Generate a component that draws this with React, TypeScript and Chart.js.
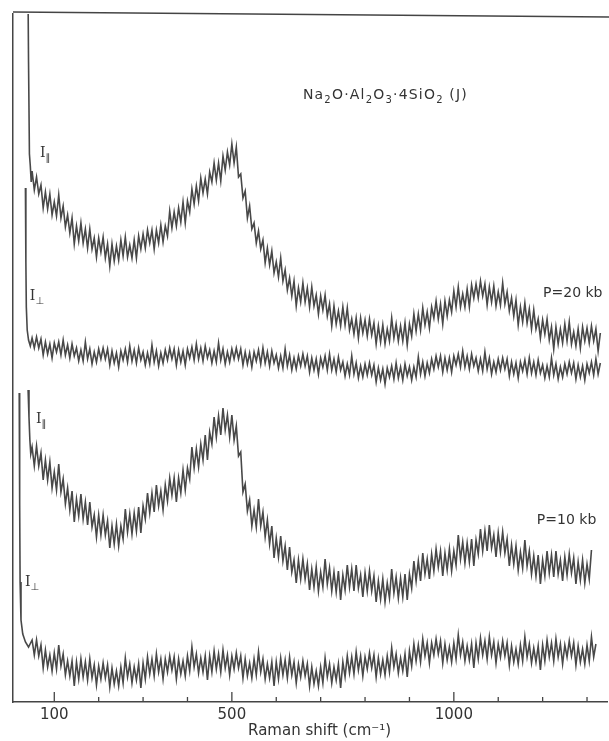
import React, { useEffect, useRef } from "react";
import { Chart, registerables } from "chart.js";

Chart.register(...registerables);

// ---- data (Raman shift in cm^-1, intensity in arbitrary units) ----
const SHIFT_START = 50;
const SHIFT_STEP = 5;

const xTickValues = [100, 200, 300, 400, 500, 600, 700, 800, 900, 1000, 1100, 1200, 1300];
const xLabelValues = [100, 500, 1000];

// I-parallel, P = 20 kb (from 50 cm^-1, every 5 cm^-1)
const parallel20 = [
  531, 512, 525, 508, 517, 494, 510, 493, 508, 487,
  500, 486, 507, 484, 496, 475, 487, 469, 484, 458,
  476, 461, 479, 459, 473, 454, 473, 453, 464, 445,
  464, 450, 465, 444, 458, 436, 458, 441, 456, 442,
  462, 446, 465, 445, 457, 444, 462, 444, 466, 453,
  468, 454, 472, 459, 472, 453, 472, 459, 477, 460,
  476, 466, 491, 474, 490, 476, 494, 480, 500, 479,
  501, 490, 513, 498, 516, 501, 524, 509, 523, 508,
  530, 520, 539, 522, 539, 521, 546, 532, 550, 537,
  558, 539, 555, 525, 528, 504, 511, 484, 496, 473,
  479, 459, 471, 453, 462, 439, 454, 437, 451, 429,
  440, 425, 444, 421, 432, 412, 424, 406, 421, 396,
  414, 400, 419, 400, 414, 395, 415, 396, 407, 388,
  406, 392, 407, 386, 398, 376, 396, 378, 391, 376,
  395, 377, 394, 372, 383, 368, 384, 364, 384, 369,
  382, 366, 383, 367, 379, 358, 376, 360, 377, 358,
  373, 361, 384, 364, 378, 361, 376, 361, 379, 357,
  378, 366, 388, 371, 388, 372, 394, 377, 390, 374,
  395, 384, 401, 383, 398, 378, 401, 386, 402, 390,
  411, 395, 415, 395, 408, 395, 413, 395, 417, 404,
  418, 404, 421, 406, 418, 397, 415, 400, 416, 396,
  410, 397, 419, 398, 410, 391, 404, 386, 402, 377,
  395, 380, 399, 379, 393, 373, 392, 373, 383, 364,
  382, 368, 383, 362, 375, 353, 375, 358, 373, 359,
  378, 361, 380, 358, 370, 356, 373, 354, 375, 361,
  374, 359, 376, 361, 373, 351, 369,
];

// I-perpendicular, P = 20 kb
const perpendicular20 = [
  364, 354, 365, 354, 363, 347, 360, 348, 358, 344,
  359, 350, 360, 347, 362, 347, 357, 344, 358, 346,
  354, 341, 352, 341, 360, 343, 353, 338, 350, 340,
  353, 343, 354, 343, 353, 337, 351, 339, 349, 335,
  351, 342, 353, 340, 356, 341, 352, 339, 354, 342,
  350, 337, 349, 338, 357, 340, 351, 336, 349, 339,
  352, 342, 354, 343, 353, 337, 352, 340, 351, 337,
  353, 344, 355, 342, 358, 343, 354, 341, 356, 344,
  352, 339, 351, 340, 359, 342, 353, 338, 350, 340,
  353, 343, 354, 343, 353, 337, 350, 338, 349, 335,
  350, 341, 352, 338, 354, 339, 350, 336, 351, 339,
  347, 334, 346, 334, 353, 336, 347, 332, 344, 333,
  346, 336, 348, 336, 346, 330, 344, 332, 343, 328,
  344, 335, 346, 332, 348, 332, 343, 330, 345, 332,
  340, 326, 338, 327, 346, 328, 339, 324, 336, 325,
  338, 327, 339, 327, 337, 320, 334, 322, 333, 318,
  334, 325, 336, 323, 339, 324, 335, 322, 338, 326,
  335, 322, 335, 325, 345, 328, 340, 326, 339, 329,
  343, 333, 346, 335, 346, 330, 344, 332, 344, 330,
  346, 337, 348, 335, 351, 335, 346, 333, 348, 336,
  344, 331, 343, 331, 350, 333, 344, 328, 340, 330,
  343, 332, 344, 333, 343, 326, 340, 328, 339, 324,
  340, 331, 342, 328, 344, 329, 340, 327, 342, 329,
  337, 324, 336, 325, 344, 327, 338, 323, 335, 325,
  338, 328, 340, 329, 339, 323, 337, 325, 336, 322,
  338, 329, 340, 327, 343, 328, 339,
];

// I-parallel, P = 10 kb
const parallel10 = [
  255, 236, 256, 236, 249, 222, 242, 222, 240, 214,
  230, 212, 238, 210, 223, 198, 214, 192, 211, 180,
  203, 186, 208, 183, 200, 177, 200, 175, 187, 165,
  187, 167, 187, 167, 181, 154, 176, 158, 178, 156,
  176, 163, 193, 170, 188, 168, 189, 171, 195, 169,
  196, 183, 209, 189, 209, 190, 217, 196, 211, 192,
  217, 201, 224, 207, 224, 200, 224, 209, 232, 212,
  234, 223, 255, 234, 253, 235, 258, 242, 267, 242,
  270, 258, 285, 265, 286, 267, 294, 272, 287, 265,
  287, 262, 276, 246, 250, 210, 218, 191, 202, 176,
  192, 175, 203, 176, 190, 165, 182, 158, 176, 144,
  164, 145, 166, 141, 156, 132, 155, 130, 142, 119,
  142, 123, 143, 123, 138, 112, 133, 115, 135, 111,
  130, 115, 143, 118, 134, 111, 130, 110, 131, 102,
  127, 112, 137, 115, 133, 111, 137, 114, 127, 105,
  129, 111, 131, 111, 126, 100, 121, 103, 123, 100,
  119, 104, 133, 109, 125, 104, 124, 105, 128, 102,
  128, 114, 141, 121, 141, 121, 149, 128, 143, 123,
  148, 131, 153, 135, 151, 126, 149, 132, 153, 131,
  151, 137, 167, 143, 160, 139, 159, 140, 163, 136,
  162, 148, 173, 151, 171, 151, 177, 154, 167, 145,
  169, 150, 170, 149, 163, 136, 157, 138, 156, 132,
  150, 134, 162, 136, 151, 128, 146, 126, 147, 118,
  142, 126, 151, 129, 147, 125, 151, 128, 142, 121,
  145, 127, 148, 129, 144, 118, 140, 122, 142, 119,
  138, 123, 152,
];

// I-perpendicular, P = 10 kb
const perpendicular10 = [
  62, 47, 62, 46, 57, 34, 52, 35, 47, 31,
  49, 33, 57, 36, 48, 27, 41, 26, 41, 16,
  40, 23, 43, 25, 40, 22, 43, 24, 37, 17,
  36, 23, 39, 24, 37, 15, 34, 18, 31, 16,
  35, 19, 44, 25, 38, 19, 35, 22, 38, 14,
  39, 23, 45, 28, 43, 26, 48, 30, 43, 23,
  43, 30, 46, 32, 45, 23, 43, 28, 41, 26,
  46, 31, 55, 35, 48, 29, 44, 30, 46, 22,
  46, 30, 51, 33, 48, 30, 52, 34, 47, 27,
  46, 33, 49, 34, 46, 24, 43, 26, 39, 24,
  43, 27, 50, 30, 43, 23, 38, 24, 40, 16,
  40, 23, 44, 27, 42, 24, 45, 27, 40, 19,
  38, 25, 41, 26, 38, 16, 35, 18, 31, 16,
  35, 19, 44, 25, 38, 19, 35, 22, 38, 14,
  40, 25, 46, 29, 45, 28, 50, 32, 46, 26,
  45, 33, 49, 34, 47, 25, 44, 28, 42, 27,
  46, 30, 54, 35, 48, 29, 44, 31, 48, 25,
  51, 36, 58, 41, 57, 40, 63, 46, 59, 39,
  59, 47, 63, 48, 61, 39, 58, 42, 55, 40,
  59, 43, 67, 47, 60, 41, 56, 42, 58, 34,
  59, 43, 64, 47, 61, 43, 65, 47, 60, 39,
  58, 45, 61, 46, 59, 37, 56, 40, 53, 38,
  57, 41, 65, 45, 58, 39, 54, 40, 56, 32,
  57, 41, 62, 45, 59, 41, 63, 45, 58, 38,
  57, 45, 61, 46, 59, 37, 56, 40, 53, 38,
  57, 41, 65, 45, 58,
];

// Rayleigh wings at the start of each scan: [shift, intensity]
const wingParallel20 = [[40, 760], [42, 640], [44, 548], [46, 536], [48, 520]];
const wingPerpendicular20 = [[35, 514], [36, 440], [37, 395], [39, 372], [42, 362], [46, 356]];
const wingParallel10 = [[41, 312], [43, 285], [45, 262], [47, 248]];
const wingPerpendicular10 = [[21, 309], [22, 200], [23, 120], [25, 82], [29, 68], [35, 60], [42, 55]];

// ---- presentation ----
const INK = "#333333";
const TRACE = "rgba(40,40,40,0.85)";

function toPoints(wing: number[][], values: number[]) {
  return [
    ...wing.map(([x, y]) => ({ x, y })),
    ...values.map((y, i) => ({ x: SHIFT_START + i * SHIFT_STEP, y })),
  ];
}

type Part = [string, number, string?];

function drawParts(ctx: CanvasRenderingContext2D, parts: Part[], x: number, y: number, size: number, spacing: number) {
  let cx = x;
  for (const [t, kind, fam] of parts) {
    const fs = kind === 0 ? size : Math.round(size * 0.72);
    const family = fam || '"DejaVu Sans", sans-serif';
    ctx.font = `${fs}px ${family}`;
    (ctx as any).letterSpacing = `${spacing}px`;
    const dy = kind === 1 ? size * 0.3 : 0;
    ctx.fillText(t, cx, y + dy);
    cx += ctx.measureText(t).width;
  }
  (ctx as any).letterSpacing = "0px";
}

const annotations: { parts: Part[]; at: [number, number]; size: number; spacing: number }[] = [
  {
    parts: [["Na", 0], ["2", 1], ["O·Al", 0], ["2", 1], ["O", 0], ["3", 1], ["·4SiO", 0], ["2", 1], [" (J)", 0]],
    at: [660, 603], size: 14, spacing: 1.2,
  },
  { parts: [["P=20 kb", 0]], at: [1201, 405], size: 14, spacing: 0 },
  { parts: [["P=10 kb", 0]], at: [1187, 178], size: 14, spacing: 0 },
  { parts: [["I", 0, '"DejaVu Serif", serif'], ["∥", 1]], at: [68, 545], size: 14, spacing: 0 },
  { parts: [["I", 0, '"DejaVu Serif", serif'], ["⊥", 1]], at: [45, 402], size: 14, spacing: 0 },
  { parts: [["I", 0, '"DejaVu Serif", serif'], ["∥", 1]], at: [59, 279], size: 14, spacing: 0 },
  { parts: [["I", 0, '"DejaVu Serif", serif'], ["⊥", 1]], at: [34, 116], size: 14, spacing: 0 },
];

const decorPlugin = {
  id: "decor",
  afterDraw(chart: any) {
    const { ctx, chartArea, scales } = chart;
    const xs = scales.x;
    const ys = scales.y;
    ctx.save();
    ctx.strokeStyle = "#444";
    ctx.lineWidth = 1.5;
    ctx.beginPath();
    ctx.moveTo(chartArea.left, chartArea.top - 2);
    ctx.lineTo(chart.width, chartArea.top + 3);
    ctx.stroke();
    ctx.lineWidth = 1.3;
    for (const v of xTickValues) {
      const px = xs.getPixelForValue(v);
      const len = xLabelValues.includes(v) ? 10 : 5;
      ctx.beginPath();
      ctx.moveTo(px, chartArea.bottom);
      ctx.lineTo(px, chartArea.bottom - len);
      ctx.stroke();
    }
    ctx.fillStyle = INK;
    ctx.textAlign = "left";
    ctx.textBaseline = "alphabetic";
    for (const a of annotations) {
      drawParts(ctx, a.parts, xs.getPixelForValue(a.at[0]), ys.getPixelForValue(a.at[1]), a.size, a.spacing);
    }
    ctx.restore();
  },
};

export default function App() {
  const ref = useRef<HTMLCanvasElement | null>(null);

  useEffect(() => {
    document.body.style.margin = "0";
    const canvas = ref.current;
    if (!canvas) return;
    const mk = (wing: number[][], vals: number[]) => ({
      data: toPoints(wing, vals),
      borderColor: TRACE,
      borderWidth: 1.6,
      borderJoinStyle: "miter",
      pointRadius: 0,
      tension: 0,
      fill: false,
    });
    const chart = new Chart(canvas, {
      type: "line",
      data: {
        datasets: [
          { label: "I∥ 20 kb", ...mk(wingParallel20, parallel20) },
          { label: "I⊥ 20 kb", ...mk(wingPerpendicular20, perpendicular20) },
          { label: "I∥ 10 kb", ...mk(wingParallel10, parallel10) },
          { label: "I⊥ 10 kb", ...mk(wingPerpendicular10, perpendicular10) },
        ],
      },
      options: {
        animation: false,
        responsive: false,
        devicePixelRatio: 1,
        layout: { padding: { left: 13, right: 2, top: 14, bottom: 0 } },
        plugins: { legend: { display: false }, tooltip: { enabled: false }, title: { display: false } },
        scales: {
          x: {
            type: "linear",
            position: "bottom",
            min: 7,
            max: 1345,
            afterBuildTicks: (s: any) => {
              s.ticks = xLabelValues.map((v) => ({ value: v }));
            },
            afterFit: (s: any) => {
              s.height = 39;
            },
            grid: { display: true, drawOnChartArea: false, drawTicks: false },
            border: { display: true, color: "#444", width: 1.5 },
            ticks: {
              padding: 4,
              color: INK,
              font: { family: '"DejaVu Sans", sans-serif', size: 15 },
              callback: (v: any) => String(v),
              maxRotation: 0,
              autoSkip: false,
            },
            title: {
              display: true,
              text: "\u2007\u2007Raman shift (cm⁻¹)",
              color: INK,
              font: { family: '"DejaVu Sans", sans-serif', size: 15 },
              padding: { top: 0, bottom: 1 },
            },
          },
          y: {
            type: "linear",
            min: 0,
            max: 688,
            afterFit: (s: any) => {
              s.width = 0;
            },
            grid: { display: true, drawOnChartArea: false, drawTicks: false },
            border: { display: true, color: "#444", width: 1.5 },
            ticks: { display: false },
          },
        },
      },
      plugins: [decorPlugin],
    } as any);
    return () => chart.destroy();
  }, []);

  return (
    <div style={{ position: "absolute", left: 0, top: 0, width: 609, height: 741, background: "#fff" }}>
      <canvas ref={ref} width={609} height={741} style={{ display: "block", width: 609, height: 741 }} />
    </div>
  );
}
